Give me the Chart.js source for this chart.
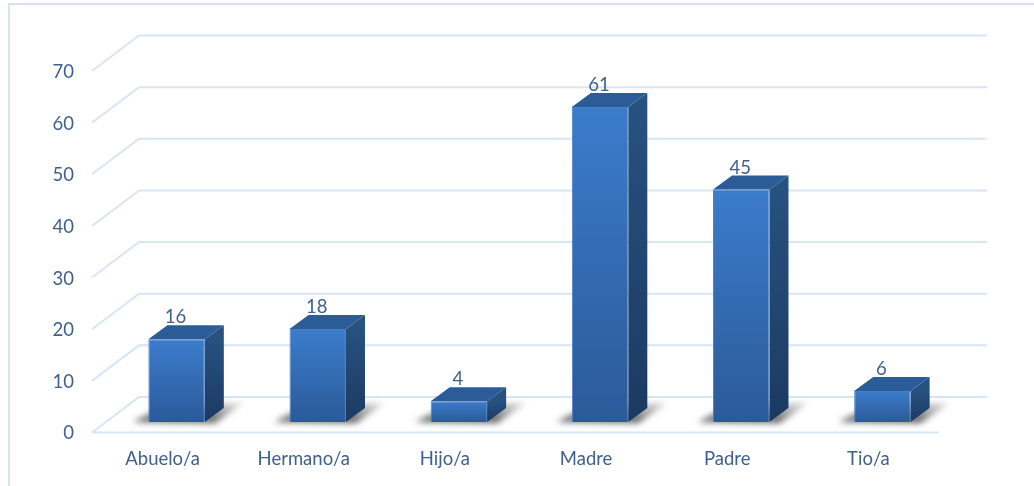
<!DOCTYPE html>
<html lang="es">
<head>
    <meta charset="UTF-8">
    <title>Parentesco</title>
    <style>
        html, body { margin: 0; padding: 0; background: #fff; }
        #wrap { position: relative; width: 1034px; height: 486px; overflow: hidden; }
        /* outer chart frame, only top and left show in the crop */
        #frame { position: absolute; left: 8px; top: 3px; width: 1040px; height: 500px; border: 2px solid #d5e3f3; }
        canvas { position: absolute; left: 0; top: 0; }
    </style>
</head>
<body>
<div id="wrap">
    <div id="frame"></div>
    <canvas id="chart" width="1034" height="486"></canvas>
</div>
<script src="https://cdn.jsdelivr.net/npm/chart.js"></script>
<script>
const categories = ['Abuelo/a', 'Hermano/a', 'Hijo/a', 'Madre', 'Padre', 'Tio/a'];
const values = [16, 18, 4, 61, 45, 6];

const textColor = '#3f5f8f';
const gridColor = '#d8e5f5';
const fontFamily = 'Lato, sans-serif';
const fontSize = 18.5;

// how far the back wall sits from the axis plane
const wallDx = 47, wallDy = -35.5;
// bars stand on the floor, between the axis plane and the wall
const planeDx = 14, planeDy = -10.5;
// depth of one bar
const barDx = 19, barDy = -14;

function vGradient(ctx, top, bottom, c1, c2) {
    const g = ctx.createLinearGradient(0, top, 0, bottom);
    g.addColorStop(0, c1);
    g.addColorStop(1, c2);
    return g;
}

const bars3d = {
    id: 'bars3d',
    beforeDatasetsDraw(chart) {
        const { ctx, scales, chartArea } = chart;
        const y = scales.y;

        // wall and floor lines
        ctx.save();
        ctx.strokeStyle = gridColor;
        ctx.lineWidth = 2;
        y.ticks.forEach((t) => {
            const py = y.getPixelForValue(t.value);
            ctx.beginPath();
            ctx.moveTo(chartArea.left, py);
            ctx.lineTo(chartArea.left + wallDx, py + wallDy);
            ctx.lineTo(chartArea.right + wallDx + 1, py + wallDy);
            ctx.stroke();
        });
        const floor = y.getPixelForValue(0);
        ctx.beginPath();
        ctx.moveTo(chartArea.left, floor);
        ctx.lineTo(chartArea.right, floor);
        ctx.stroke();
        ctx.restore();

        // everything in the bars plane gets shifted, restored after the datasets
        ctx.save();
        ctx.translate(planeDx, planeDy);

        const meta = chart.getDatasetMeta(0);
        meta.data.forEach((bar) => {
            const w = bar.width / 2;
            const l = bar.x - w, r = bar.x + w;

            // floor shadow
            ctx.save();
            ctx.filter = 'blur(3px)';
            ctx.fillStyle = vGradient(ctx, bar.base - 19, bar.base, 'rgba(110,110,110,0.25)', 'rgba(40,40,40,0.8)');
            ctx.beginPath();
            ctx.moveTo(l - 15, bar.base);
            ctx.lineTo(r + 10, bar.base + 1);
            ctx.lineTo(r + 38, bar.base - 19);
            ctx.lineTo(l + 20, bar.base - 19);
            ctx.closePath();
            ctx.fill();
            ctx.restore();

            // right side
            ctx.fillStyle = vGradient(ctx, bar.y, bar.base, '#27517f', '#1b3a62');
            ctx.beginPath();
            ctx.moveTo(r, bar.y);
            ctx.lineTo(r + barDx, bar.y + barDy);
            ctx.lineTo(r + barDx, bar.base + barDy);
            ctx.lineTo(r, bar.base);
            ctx.closePath();
            ctx.fill();

            // top
            ctx.fillStyle = '#2b5c97';
            ctx.beginPath();
            ctx.moveTo(l, bar.y);
            ctx.lineTo(l + barDx, bar.y + barDy);
            ctx.lineTo(r + barDx, bar.y + barDy);
            ctx.lineTo(r, bar.y);
            ctx.closePath();
            ctx.fill();
        });
    },
    afterDatasetsDraw(chart) {
        const { ctx } = chart;
        const meta = chart.getDatasetMeta(0);
        ctx.font = fontSize + 'px ' + fontFamily;
        ctx.fillStyle = textColor;
        ctx.textAlign = 'center';
        ctx.textBaseline = 'middle';
        meta.data.forEach((bar, i) => {
            ctx.fillText(values[i], bar.x - 1, bar.y - 22);
        });
        ctx.restore(); // the translate from beforeDatasetsDraw
    }
};

new Chart(document.getElementById('chart'), {
    type: 'bar',
    data: {
        labels: categories,
        datasets: [{
            data: values,
            barPercentage: 0.4,
            categoryPercentage: 1,
            borderWidth: 1,
            borderColor: '#4a80c8',
            backgroundColor: (c) => {
                const { ctx, scales } = c.chart;
                if (!scales.y || c.raw === undefined) return '#3a7bcb';
                const top = scales.y.getPixelForValue(c.raw);
                const bottom = scales.y.getPixelForValue(0);
                if (!isFinite(top) || !isFinite(bottom)) return '#3a7bcb'; // scales not laid out yet
                return vGradient(ctx, top, bottom, '#3b7ccc', '#2b5a98');
            }
        }]
    },
    options: {
        responsive: false,
        animation: false,
        layout: { padding: { top: 71, right: 95, left: 0, bottom: 0 } },
        plugins: { legend: { display: false }, tooltip: { enabled: false } },
        scales: {
            x: {
                grid: { display: false, drawTicks: false },
                border: { display: false },
                ticks: { color: textColor, font: { family: fontFamily, size: fontSize }, padding: 15, maxRotation: 0 },
                afterFit: (s) => { s.height = 53.5; }
            },
            y: {
                min: 0,
                max: 70,
                grid: { display: false, drawTicks: false },
                border: { display: false },
                ticks: { stepSize: 10, color: textColor, font: { family: fontFamily, size: fontSize }, padding: 18, labelOffset: 1 },
                afterFit: (s) => { s.width = 92; }
            }
        }
    },
    plugins: [bars3d]
});
</script>
</body>
</html>
